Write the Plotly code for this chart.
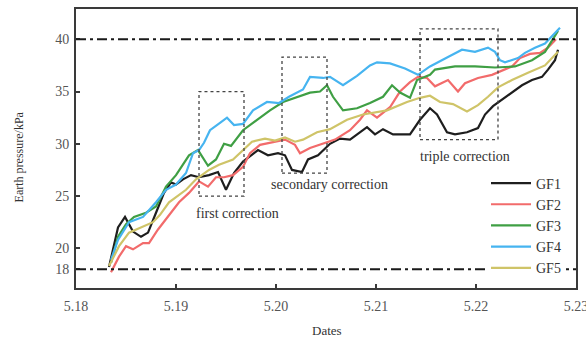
import plotly.graph_objects as go

# Earth pressure readings (kPa) of the five gauges, dates written as month.day fraction
gf1_dates = [5.1833, 5.1842, 5.1849, 5.1857, 5.1865, 5.1872, 5.1880, 5.1888, 5.1895, 5.1900,
             5.1907, 5.1915, 5.1923, 5.1933, 5.1942, 5.1950, 5.1958, 5.1967, 5.1982, 5.1992,
             5.2002, 5.2009, 5.2016, 5.2026, 5.2032, 5.2042, 5.2054, 5.2064, 5.2074, 5.2091,
             5.2099, 5.2107, 5.2117, 5.2134, 5.2144, 5.2154, 5.2161, 5.2171, 5.2179, 5.2191,
             5.2202, 5.2209, 5.2217, 5.2226, 5.2236, 5.2246, 5.2256, 5.2266, 5.2272, 5.2279,
             5.2282]
gf1_values = [18.2, 22.0, 23.0, 21.6, 21.1, 21.5, 23.4, 25.3, 26.3, 26.1,
              26.6, 27.0, 26.8, 27.0, 27.3, 25.6, 27.2, 28.3, 29.4, 28.9,
              29.1, 28.9, 27.5, 27.3, 28.5, 28.9, 30.0, 30.5, 30.4, 31.6,
              30.9, 31.4, 30.9, 30.9, 32.3, 33.4, 32.8, 31.1, 30.9, 31.1,
              31.5, 32.8, 33.6, 34.2, 34.9, 35.6, 36.1, 36.4, 37.1, 38.0,
              39.0]

gf2_dates = [5.1835, 5.1843, 5.1850, 5.1857, 5.1867, 5.1873, 5.1882, 5.1892, 5.1903, 5.1913,
             5.1923, 5.1932, 5.1940, 5.1948, 5.1957, 5.1967, 5.1974, 5.1984, 5.1999, 5.2009,
             5.2019, 5.2024, 5.2034, 5.2049, 5.2059, 5.2074, 5.2084, 5.2091, 5.2101, 5.2114,
             5.2124, 5.2134, 5.2142, 5.2151, 5.2159, 5.2172, 5.2182, 5.2189, 5.2202, 5.2216,
             5.2226, 5.2236, 5.2244, 5.2254, 5.2264, 5.2272, 5.2280]
gf2_values = [17.7, 19.2, 20.2, 19.9, 20.5, 20.5, 21.8, 23.0, 24.4, 25.3,
              26.4, 25.9, 26.8, 26.8, 27.0, 27.8, 29.1, 29.9, 30.2, 30.4,
              29.9, 29.1, 29.6, 30.1, 30.4, 31.3, 32.3, 33.2, 32.5, 33.5,
              35.0, 35.9, 36.4, 36.3, 35.5, 36.1, 35.0, 35.8, 36.3, 36.6,
              37.0, 37.4, 38.2, 38.6, 38.7, 39.2, 40.0]

gf3_dates = [5.1835, 5.1842, 5.1850, 5.1858, 5.1870, 5.1880, 5.1890, 5.1900, 5.1913, 5.1922,
             5.1932, 5.1940, 5.1948, 5.1955, 5.1967, 5.1981, 5.1994, 5.2007, 5.2021, 5.2034,
             5.2044, 5.2051, 5.2057, 5.2067, 5.2081, 5.2094, 5.2107, 5.2116, 5.2124, 5.2134,
             5.2141, 5.2154, 5.2159, 5.2179, 5.2199, 5.2219, 5.2239, 5.2256, 5.2269, 5.2282]
gf3_values = [18.6, 21.1, 22.3, 23.0, 23.4, 24.0, 25.9, 27.0, 28.9, 29.4,
              27.9, 28.5, 30.0, 29.8, 31.3, 32.3, 33.2, 34.0, 34.5, 34.9,
              35.0, 35.6, 34.5, 33.2, 33.4, 33.9, 34.5, 35.6, 34.9, 34.4,
              36.1, 36.6, 37.1, 37.4, 37.4, 37.3, 37.4, 38.0, 38.8, 40.8]

gf4_dates = [5.1835, 5.1842, 5.1853, 5.1867, 5.1880, 5.1890, 5.1900, 5.1910, 5.1917, 5.1923,
             5.1928, 5.1934, 5.1944, 5.1951, 5.1958, 5.1967, 5.1977, 5.1991, 5.2003, 5.2013,
             5.2027, 5.2034, 5.2047, 5.2054, 5.2067, 5.2081, 5.2094, 5.2101, 5.2114, 5.2129,
             5.2142, 5.2154, 5.2172, 5.2186, 5.2199, 5.2212, 5.2219, 5.2224, 5.2229, 5.2242,
             5.2249, 5.2259, 5.2269, 5.2279, 5.2284]
gf4_values = [18.9, 20.8, 22.5, 23.0, 24.4, 25.6, 26.1, 27.2, 29.1, 29.4,
              30.1, 31.3, 32.0, 32.5, 31.8, 31.9, 33.2, 34.0, 33.9, 34.5,
              35.2, 36.4, 36.3, 36.4, 35.6, 36.5, 37.5, 37.8, 37.7, 37.2,
              36.6, 37.4, 38.3, 39.0, 38.8, 39.2, 38.8, 38.0, 37.8, 38.2,
              38.7, 39.2, 39.6, 40.6, 41.1]

gf5_dates = [5.1833, 5.1843, 5.1853, 5.1867, 5.1877, 5.1884, 5.1893, 5.1910, 5.1920, 5.1933,
             5.1943, 5.1957, 5.1967, 5.1976, 5.1989, 5.1999, 5.2009, 5.2019, 5.2027, 5.2041,
             5.2054, 5.2071, 5.2087, 5.2111, 5.2131, 5.2144, 5.2154, 5.2164, 5.2177, 5.2191,
             5.2202, 5.2212, 5.2222, 5.2236, 5.2252, 5.2269, 5.2282]
gf5_values = [18.3, 20.2, 21.5, 22.1, 22.5, 23.2, 24.4, 25.6, 26.6, 27.5,
              28.0, 28.5, 29.4, 30.2, 30.5, 30.3, 30.6, 30.2, 30.4, 31.1,
              31.4, 32.3, 32.8, 33.2, 34.0, 34.4, 34.6, 34.0, 33.8, 33.1,
              33.7, 34.5, 35.4, 36.1, 36.8, 37.5, 38.8]

series_names = ["GF1", "GF2", "GF3", "GF4", "GF5"]
series_colors = ["#1e1e1e", "#f26b6b", "#3f9f44", "#46b4f0", "#cfc468"]

# Control limits (kPa)
limit_levels = [40, 18]

# Correction windows: (start date, end date, low kPa, high kPa, label)
corrections = [
    (5.1923, 5.1968, 25.0, 35.0, "first correction"),
    (5.2006, 5.2051, 27.2, 38.3, "secondary correction"),
    (5.2144, 5.2222, 30.4, 41.0, "triple correction"),
]
label_positions = [(5.1961, 23.3), (5.2053, 26.1), (5.2189, 28.8)]

x_ticks = [5.18, 5.19, 5.20, 5.21, 5.22, 5.23]
x_tick_text = ["5.18", "5.19", "5.20", "5.21", "5.22", "5.23"]
y_ticks = [18, 20, 25, 30, 35, 40]

SERIF = "Liberation Serif, Times New Roman, DejaVu Serif, serif"

fig = go.Figure()
all_dates = [gf1_dates, gf2_dates, gf3_dates, gf4_dates, gf5_dates]
all_values = [gf1_values, gf2_values, gf3_values, gf4_values, gf5_values]
for name, color, xs, ys in zip(series_names, series_colors, all_dates, all_values):
    fig.add_trace(go.Scatter(x=xs, y=ys, mode="lines", name=name,
                             line=dict(color=color, width=2.2)))

for level in limit_levels:
    fig.add_shape(type="line", xref="paper", yref="y", x0=0, x1=1, y0=level, y1=level,
                  line=dict(color="#1a1a1a", width=2, dash="10px,4px,3px,4px"))

for (x0, x1, y0, y1, label), (lx, ly) in zip(corrections, label_positions):
    fig.add_shape(type="rect", xref="x", yref="y", x0=x0, x1=x1, y0=y0, y1=y1,
                  line=dict(color="#444444", width=1.3, dash="dot"))
    fig.add_annotation(x=lx, y=ly, xref="x", yref="y", text=label, showarrow=False,
                       font=dict(family=SERIF, size=14, color="#333333"))

fig.add_annotation(x=-0.114, y=0.468, xref="paper", yref="paper", text="Earth pressure/kPa",
                   textangle=-90, showarrow=False, xanchor="center", yanchor="middle",
                   font=dict(family=SERIF, size=12, color="#333333"))
fig.add_annotation(x=0.502, y=-0.154, xref="paper", yref="paper", text="Dates",
                   showarrow=False, xanchor="center", yanchor="middle",
                   font=dict(family=SERIF, size=13, color="#333333"))

axis_common = dict(showgrid=False, zeroline=False, showline=True, linecolor="#3a3a3a",
                   linewidth=2, mirror=True, ticks="inside", ticklen=4, tickwidth=1.5,
                   tickcolor="#3a3a3a", tickfont=dict(family=SERIF, size=14, color="#555555"),
                   ticklabeloverflow="allow", automargin=False)

fig.update_layout(
    width=586, height=340,
    margin=dict(l=76, r=10, t=9, b=52, autoexpand=False),
    paper_bgcolor="white", plot_bgcolor="white",
    showlegend=True,
    legend=dict(x=0.82, y=0.432, xanchor="left", yanchor="top",
                bgcolor="white", borderwidth=0, itemwidth=40,
                font=dict(family=SERIF, size=14, color="#333333"),
                tracegroupgap=0),
    xaxis=dict(range=[5.18 - 1e-6, 5.23 + 1e-6], tickvals=x_ticks, ticktext=x_tick_text,
               ticklabelstandoff=4, **axis_common),
    yaxis=dict(range=[16.2, 42.9], tickvals=y_ticks, ticklabelstandoff=2, **axis_common),
)

fig.write_html("out.html")
